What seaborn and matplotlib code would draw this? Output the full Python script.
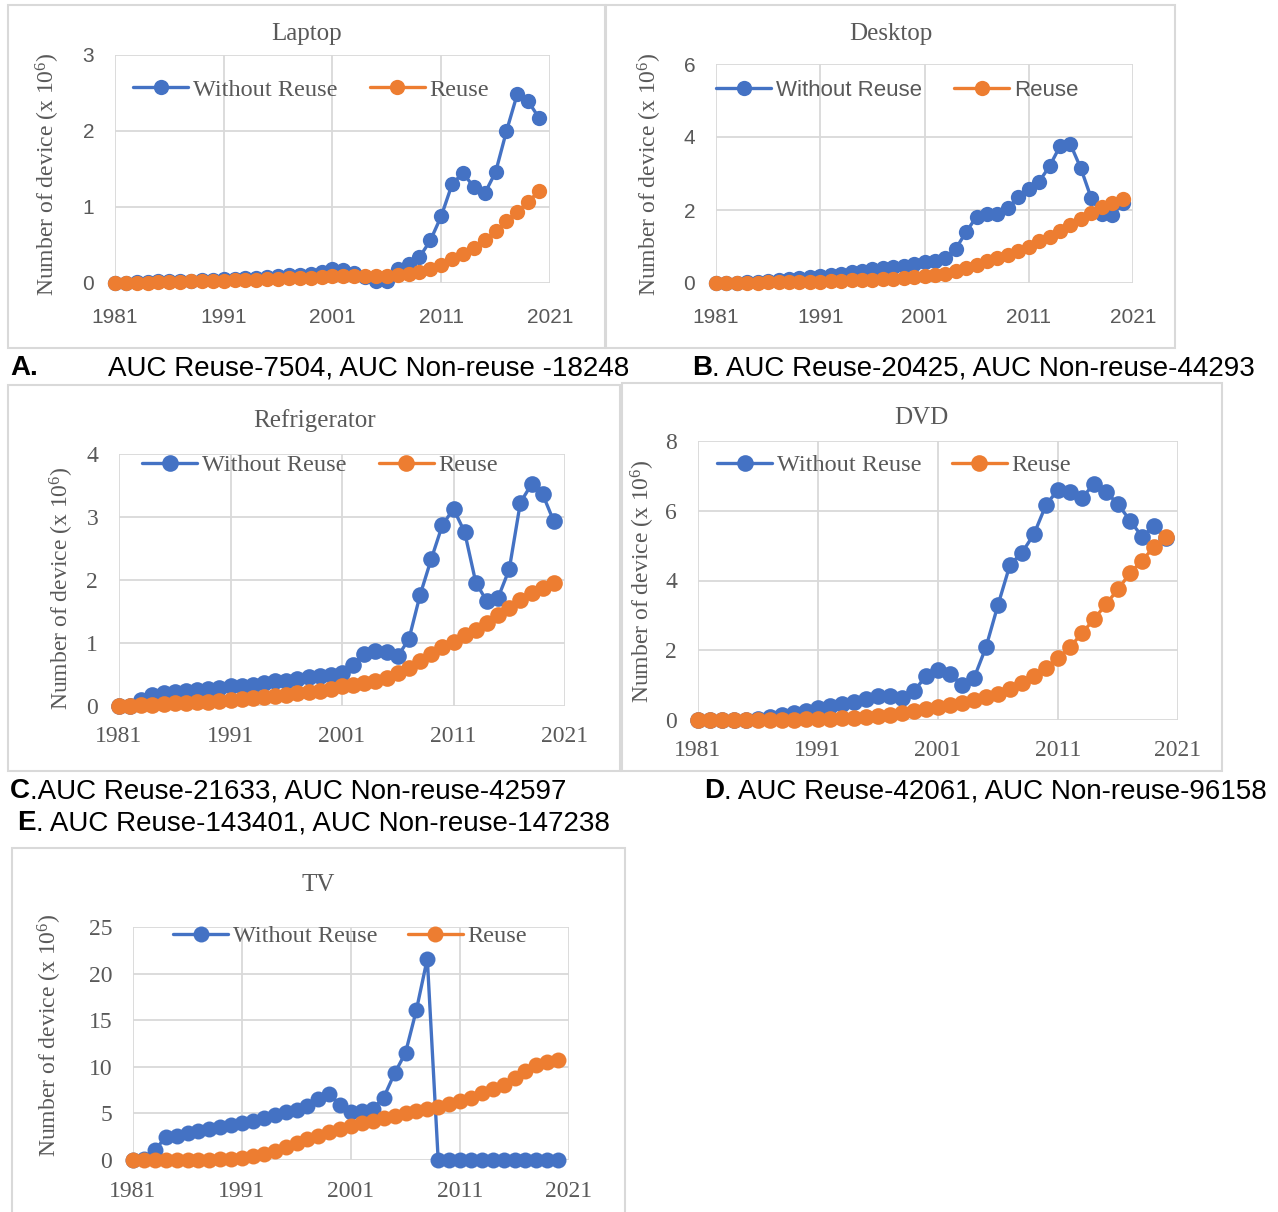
import matplotlib
matplotlib.use("Agg")
import matplotlib.pyplot as plt
import seaborn as sns
from matplotlib.patches import Rectangle

# data (x 10^6 devices), years 1981-2020
years = list(range(1981, 2021))

laptop_without = [0.00, 0.00, 0.01, 0.01, 0.02, 0.02, 0.03, 0.03, 0.04, 0.04,
                  0.05, 0.05, 0.06, 0.07, 0.08, 0.09, 0.10, 0.11, 0.12, 0.14,
                  0.18, 0.17, 0.13, 0.08, 0.02, 0.02, 0.18, 0.25, 0.34, 0.56,
                  0.88, 1.30, 1.45, 1.26, 1.18, 1.46, 2.00, 2.49, 2.39, 2.17]
laptop_reuse = [0.00, 0.00, 0.00, 0.005, 0.01, 0.01, 0.015, 0.02, 0.02, 0.025,
                0.03, 0.035, 0.04, 0.045, 0.05, 0.055, 0.06, 0.065, 0.07, 0.08,
                0.09, 0.09, 0.09, 0.09, 0.09, 0.09, 0.10, 0.12, 0.15, 0.18,
                0.24, 0.31, 0.38, 0.46, 0.56, 0.68, 0.81, 0.94, 1.07, 1.21]

desktop_without = [0.00, 0.005, 0.01, 0.02, 0.04, 0.06, 0.08, 0.11, 0.14, 0.17,
                   0.20, 0.23, 0.26, 0.30, 0.34, 0.37, 0.40, 0.43, 0.46, 0.52,
                   0.58, 0.60, 0.68, 0.94, 1.40, 1.82, 1.90, 1.89, 2.05, 2.36,
                   2.57, 2.78, 3.20, 3.75, 3.80, 3.14, 2.32, 1.90, 1.86, 2.18]
desktop_reuse = [0.00, 0.00, 0.00, 0.005, 0.01, 0.015, 0.02, 0.025, 0.03, 0.035,
                 0.04, 0.05, 0.06, 0.07, 0.08, 0.09, 0.10, 0.12, 0.14, 0.16,
                 0.18, 0.21, 0.26, 0.33, 0.42, 0.50, 0.59, 0.68, 0.77, 0.89,
                 1.00, 1.14, 1.27, 1.43, 1.59, 1.75, 1.93, 2.09, 2.18, 2.29]

fridge_without = [0.00, 0.00, 0.10, 0.17, 0.20, 0.22, 0.24, 0.25, 0.27, 0.29,
                  0.31, 0.32, 0.34, 0.37, 0.39, 0.40, 0.43, 0.46, 0.48, 0.49,
                  0.52, 0.65, 0.83, 0.88, 0.85, 0.79, 1.06, 1.76, 2.33, 2.87,
                  3.13, 2.76, 1.96, 1.66, 1.72, 2.17, 3.23, 3.52, 3.36, 2.93]
fridge_reuse = [0.00, 0.00, 0.01, 0.02, 0.03, 0.04, 0.05, 0.06, 0.07, 0.08,
                0.10, 0.11, 0.12, 0.14, 0.16, 0.18, 0.20, 0.22, 0.24, 0.27,
                0.31, 0.34, 0.37, 0.40, 0.45, 0.52, 0.60, 0.72, 0.83, 0.93,
                1.02, 1.12, 1.21, 1.31, 1.44, 1.56, 1.68, 1.79, 1.88, 1.95]

dvd_without = [0.00, 0.00, 0.00, 0.00, 0.00, 0.02, 0.10, 0.15, 0.20, 0.27,
               0.33, 0.40, 0.46, 0.53, 0.60, 0.68, 0.68, 0.62, 0.82, 1.27,
               1.42, 1.32, 1.00, 1.20, 2.09, 3.30, 4.45, 4.80, 5.33, 6.17,
               6.60, 6.54, 6.37, 6.77, 6.54, 6.19, 5.72, 5.26, 5.55, 5.22]
dvd_reuse = [0.00, 0.00, 0.00, 0.00, 0.00, 0.00, 0.005, 0.01, 0.01, 0.02,
             0.03, 0.04, 0.05, 0.07, 0.09, 0.12, 0.15, 0.19, 0.25, 0.32,
             0.38, 0.43, 0.50, 0.57, 0.65, 0.75, 0.88, 1.05, 1.26, 1.48,
             1.77, 2.09, 2.49, 2.89, 3.32, 3.75, 4.21, 4.57, 4.96, 5.26]

tv_without = [0.0, 0.1, 1.07, 2.43, 2.6, 2.86, 3.1, 3.36, 3.57, 3.75,
              4.0, 4.2, 4.46, 4.8, 5.1, 5.4, 5.8, 6.5, 7.1, 5.9,
              5.2, 5.3, 5.5, 6.7, 9.3, 11.5, 16.1, 21.6, 0.0, 0.0,
              0.0, 0.0, 0.0, 0.0, 0.0, 0.0, 0.0, 0.0, 0.0, 0.0]
tv_reuse = [0.0, 0.0, 0.0, 0.0, 0.0, 0.0, 0.02, 0.05, 0.07, 0.1,
            0.2, 0.4, 0.6, 1.0, 1.36, 1.8, 2.2, 2.57, 2.96, 3.3,
            3.64, 3.93, 4.2, 4.46, 4.7, 5.0, 5.25, 5.43, 5.7, 6.0,
            6.36, 6.7, 7.14, 7.57, 8.1, 8.75, 9.57, 10.2, 10.5, 10.7]

x_ticks = [1981, 1991, 2001, 2011, 2021]

captions = [
    ("A.", "AUC Reuse-7504, AUC Non-reuse -18248"),
    ("B", ". AUC Reuse-20425, AUC Non-reuse-44293"),
    ("C", ".AUC Reuse-21633, AUC Non-reuse-42597"),
    ("D", ". AUC Reuse-42061, AUC Non-reuse-96158"),
    ("E", ". AUC Reuse-143401, AUC Non-reuse-147238"),
]

BLUE = "#4472C4"
ORANGE = "#ED7D31"
GREY = "#595959"
GRID = "#D9D9D9"
SERIF = ["Liberation Serif", "DejaVu Serif"]
SANS = ["Liberation Sans", "DejaVu Sans"]

sns.set_style("white")
plt.rcParams["font.family"] = SERIF
plt.rcParams["mathtext.default"] = "regular"

W, H = 1278, 1212
fig = plt.figure(figsize=(W / 100, H / 100), dpi=100)


def fx(px):
    return px / W


def fy(py):
    return 1 - py / H


def frame(l, t, r, b):
    fig.add_artist(Rectangle((fx(l), fy(b)), (r - l) / W, (b - t) / H,
                             transform=fig.transFigure, fill=False,
                             edgecolor=GRID, linewidth=1.5))


def panel(area, title, title_xy, without, reuse, yticks, tick_font, tick_size,
          xpad, leg_xy, leg_font, leg_size, leg_spacing, ylab_xy, ms):
    l, t, r, b = area
    ax = fig.add_axes([fx(l), fy(b), (r - l) / W, (b - t) / H])

    sns.lineplot(x=years, y=without, ax=ax, color=BLUE, marker="o",
                 markersize=ms, markeredgewidth=0, linewidth=2.4,
                 label="Without Reuse", clip_on=False, zorder=3)
    sns.lineplot(x=years, y=reuse, ax=ax, color=ORANGE, marker="o",
                 markersize=ms, markeredgewidth=0, linewidth=2.4,
                 label="Reuse", clip_on=False, zorder=4)

    ax.set_xlim(1981, 2021)
    ax.set_ylim(0, yticks[-1])
    ax.set_xticks(x_ticks, labels=[str(v) for v in x_ticks],
                  fontfamily=tick_font, fontsize=tick_size)
    ax.set_yticks(yticks, labels=[str(v) for v in yticks],
                  fontfamily=tick_font, fontsize=tick_size)
    ax.tick_params(length=0, labelcolor=GREY)
    ax.tick_params(axis="x", pad=xpad)
    ax.tick_params(axis="y", pad=15)
    ax.grid(True, color=GRID, linewidth=1.3)
    ax.set_axisbelow(True)
    for s in ax.spines.values():
        s.set_visible(False)
    ax.set_xlabel("")
    ax.set_ylabel("")

    handles, labels = ax.get_legend_handles_labels()
    fs_px = leg_size * 100 / 72
    ax.legend(handles, labels, loc="center left",
              bbox_to_anchor=(fx(leg_xy[0]), fy(leg_xy[1])),
              bbox_transform=fig.transFigure, ncol=2, frameon=False,
              borderpad=0, borderaxespad=0, handlelength=55 / fs_px,
              handletextpad=5 / fs_px, columnspacing=leg_spacing / fs_px,
              prop={"family": leg_font, "size": leg_size}, labelcolor=GREY)

    fig.text(fx(title_xy[0]), fy(title_xy[1]), title, ha="center", va="center",
             fontsize=18, color=GREY, family=SERIF)
    fig.text(fx(ylab_xy[0]), fy(ylab_xy[1]), "Number of device (x 10$^{6}$)",
             rotation=90, ha="center", va="center", fontsize=17, color=GREY,
             family=SERIF)
    return ax


frame(8, 5, 605, 348)
frame(606, 5, 1175, 348)
frame(8, 385, 620, 771)
frame(622, 383, 1222, 771)
frame(12, 848, 625, 1216)

panel((115, 55, 550, 283), "Laptop", (307, 34), laptop_without, laptop_reuse,
      [0, 1, 2, 3], SANS, 15, 18, (133, 90), SERIF, 17.5, 32, (48, 174), 11)
panel((716, 64, 1133, 283), "Desktop", (891, 34), desktop_without, desktop_reuse,
      [0, 2, 4, 6], SANS, 15, 18, (716, 90), SANS, 16, 32, (650, 174), 11)
panel((119, 454, 565, 706), "Refrigerator", (315, 421), fridge_without, fridge_reuse,
      [0, 1, 2, 3, 4], SERIF, 17, 14.5, (142, 465), SERIF, 17.5, 32, (62, 588), 12)
panel((698, 441, 1178, 720), "DVD", (921, 418), dvd_without, dvd_reuse,
      [0, 2, 4, 6, 8], SERIF, 17, 14.5, (717, 465), SERIF, 17.5, 30, (643, 581), 12)
panel((133, 927, 569, 1160), "TV", (318, 885), tv_without, tv_reuse,
      [0, 5, 10, 15, 20, 25], SERIF, 17, 15, (173, 936), SERIF, 17.5, 30, (50, 1035), 11.5)

# captions: bold letter followed by regular text
renderer = fig.canvas.get_renderer()
cap_pos = [(10, 375, 108), (692, 375, None), (10, 798, None), (704, 798, None),
           (17, 830, None)]
for (letter, rest), (x0, yb, x_rest) in zip(captions, cap_pos):
    t1 = fig.text(fx(x0), fy(yb), letter, ha="left", va="baseline",
                  fontsize=20, fontweight="bold", family=SANS, color="black")
    if x_rest is None:
        bb = t1.get_window_extent(renderer)
        xr = bb.x1 / W
    else:
        xr = fx(x_rest)
    fig.text(xr, fy(yb), rest, ha="left", va="baseline", fontsize=20,
             family=SANS, color="black")

fig.savefig("out.png", dpi=100)
